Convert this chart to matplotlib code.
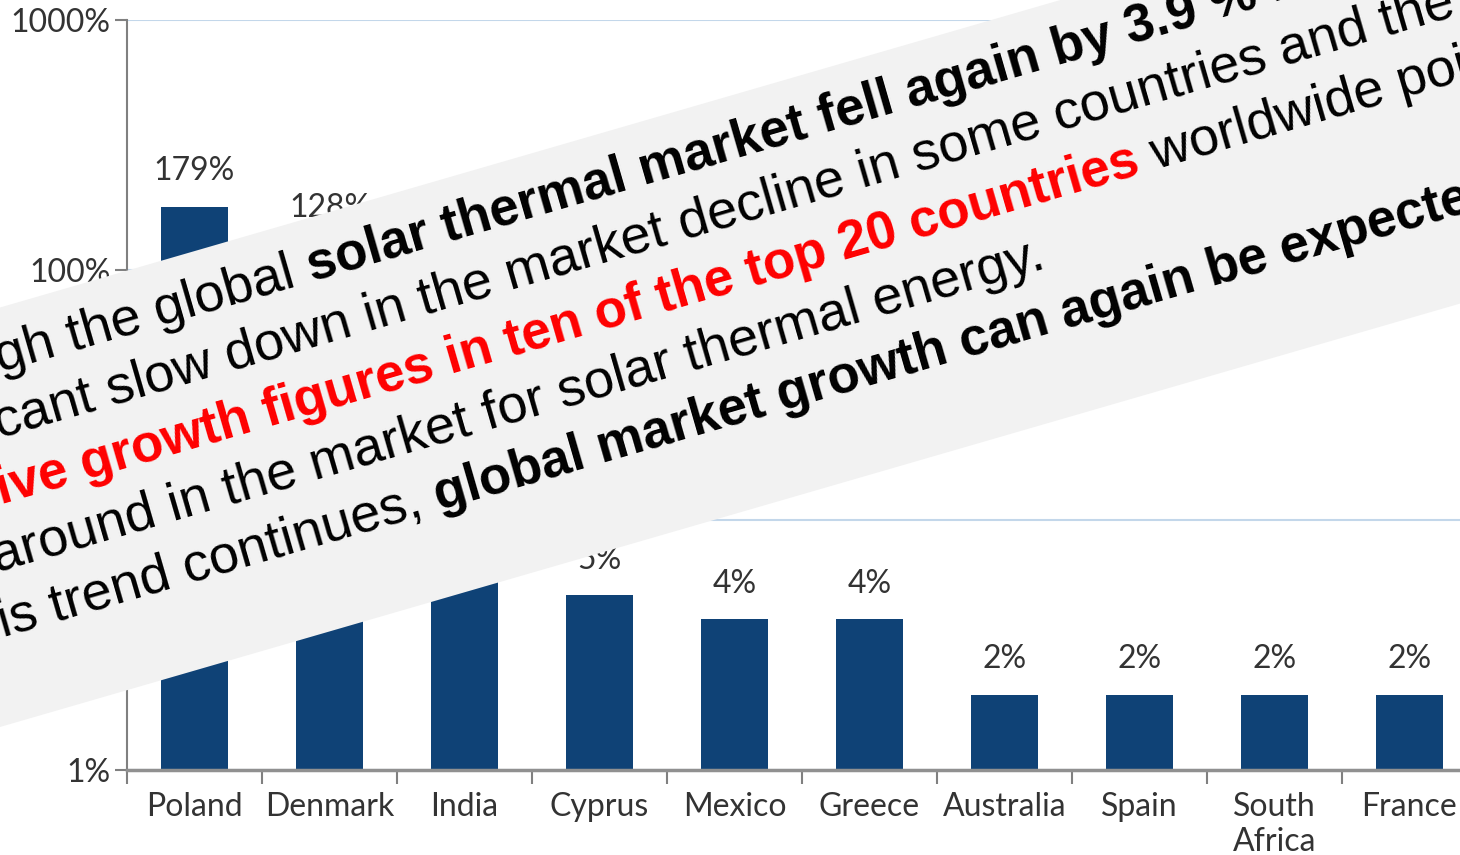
import numpy as np
import matplotlib
matplotlib.use('Agg')
import matplotlib.pyplot as plt
from matplotlib.patches import Polygon

countries = ['Poland', 'Denmark', 'India', 'Cyprus', 'Mexico', 'Greece',
             'Australia', 'Spain', 'South\nAfrica', 'France']
growth = [179, 128, 15, 5, 4, 4, 2, 2, 2, 2]
ytick_vals = [1, 10, 100, 1000]
ytick_labels = ['1%', '10%', '100%', '1000%']

# banner text, one entry per line: part hidden left of the picture, then (text, bold, red) pieces
banner_lines = [
    ('Althou', [('gh the global ', False, False),
                ('solar thermal market fell again by 3.9 %', True, False),
                (' in 2016, the', False, False)]),
    ('signifi', [('cant slow down in the market decline in some countries and the very', False, False)]),
    ('posit', [('ive growth figures in ten of the top 20 countries', True, True),
               (' worldwide point to a', False, False)]),
    ('turn', [('around in the market for solar thermal energy.', False, False)]),
    ('th', [('is trend continues, ', False, False),
            ('global market growth can again be expected.', True, False)]),
]

W, H = 1460, 855
fig = plt.figure(figsize=(W / 100, H / 100), dpi=100)
plt.rcParams['font.family'] = ['Lato', 'DejaVu Sans']

# axes run past the right edge, the picture is cropped there
ax = fig.add_axes([127 / W, 85 / H, 1350 / W, 750 / H])
x = np.arange(len(countries))
bars = ax.bar(x, growth, width=0.5, color='#0f4276', zorder=2)
ax.set_yscale('log')
ax.set_ylim(1, 1000)
ax.set_xlim(-0.5, len(countries) - 0.5)

for xi, v in zip(x, growth):
    ax.annotate('%d%%' % v, (xi, v), xytext=(0, 19), textcoords='offset points',
                ha='center', va='baseline', fontsize=23, color='#333333')

ax.set_yticks(ytick_vals)
ax.set_yticklabels(ytick_labels)
ax.minorticks_off()
ax.set_xticks(np.arange(-0.5, len(countries), 1))
ax.set_xticklabels([])
ax.set_xticks(x, minor=True)
ax.set_xticklabels(countries, minor=True)
ax.tick_params(axis='x', which='major', length=10, width=1.5, color='#808080')
ax.tick_params(axis='x', which='minor', length=0, pad=16, labelsize=23, labelcolor='#333333')
ax.tick_params(axis='y', length=9, width=1.5, color='#808080', pad=3, labelsize=23,
               labelcolor='#333333')

ax.yaxis.grid(True, color='#c3d7ea', linewidth=1.5)
ax.set_axisbelow(True)
for s in ['top', 'right']:
    ax.spines[s].set_visible(False)
ax.spines['left'].set_color('#808080')
ax.spines['left'].set_linewidth(1.5)
ax.spines['bottom'].set_color('#909090')
ax.spines['bottom'].set_linewidth(2.5)

# grey rotated banner
slope = 0.29
ang = np.degrees(np.arctan(slope))
c, s = np.cos(np.radians(ang)), np.sin(np.radians(ang))


def fig_xy(px, py):
    return px / W, 1 - py / H


top0, bot0 = 307.5, 727
xs = [-200, W + 200]
poly = [fig_xy(xs[0], top0 - slope * xs[0]), fig_xy(xs[1], top0 - slope * xs[1]),
        fig_xy(xs[1], bot0 - slope * xs[1]), fig_xy(xs[0], bot0 - slope * xs[0])]
fig.add_artist(Polygon(poly, closed=True, transform=fig.transFigure,
                       facecolor='#f2f2f2', edgecolor='none', zorder=5))

renderer = fig.canvas.get_renderer()


def text_width(txt, **kw):
    t1 = fig.text(0, 0, 'x' + txt + 'x', **kw)
    t2 = fig.text(0, 0, 'xx', **kw)
    w = t1.get_window_extent(renderer).width - t2.get_window_extent(renderer).width
    t1.remove()
    t2.remove()
    return w


def style(bold, red):
    return dict(fontsize=38 if bold else 39, family=['Liberation Sans', 'DejaVu Sans'],
                fontweight='bold' if bold else 'normal',
                color='#ff0000' if red else 'black')


base0, step = 372, 66.5
vis_start = [0, -1, 1, -3, 3]
for i, (hidden, pieces) in enumerate(banner_lines):
    b = base0 + step * i
    px = vis_start[i]
    py = b - slope * px
    kw0 = style(pieces[0][1], pieces[0][2])
    wh = text_width(hidden, **kw0)
    px, py = px - wh * c, py + wh * s
    segs = [(hidden, pieces[0][1], pieces[0][2])] + pieces
    for txt, bold, red in segs:
        kw = style(bold, red)
        fx, fy = fig_xy(px, py)
        fig.text(fx, fy, txt, rotation=ang, rotation_mode='anchor', ha='left',
                 va='baseline', zorder=6, **kw)
        w = text_width(txt, **kw)
        px, py = px + w * c, py - w * s

fig.savefig('out.png', dpi=100)
